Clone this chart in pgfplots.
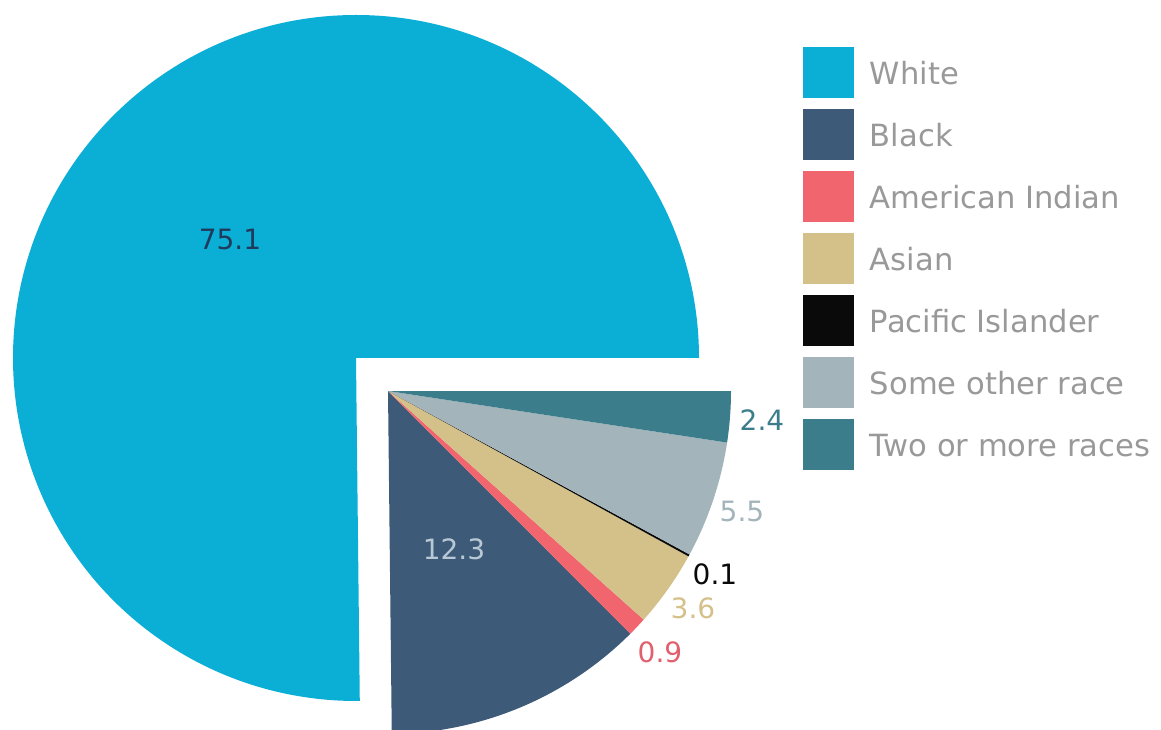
\documentclass[border=0pt]{standalone}
\usepackage{fontspec}
\setmainfont{DejaVu Sans}
\usepackage{pgfplots}
\usepackage{pgfplotstable}
\pgfplotsset{compat=1.18}

\definecolor{cWhite}{HTML}{0BAFD6}
\definecolor{cBlack}{HTML}{3D5A78}
\definecolor{cAmInd}{HTML}{F0656E}
\definecolor{cAsian}{HTML}{D4C18A}
\definecolor{cPacif}{HTML}{0A0A0A}
\definecolor{cOther}{HTML}{A3B4BA}
\definecolor{cTwo}{HTML}{3B7D8B}
\definecolor{tWhite}{HTML}{1F3A5C}
\definecolor{tBlack}{HTML}{B8C9D5}
\definecolor{tAmInd}{HTML}{E0606E}
\definecolor{legtext}{HTML}{999999}

% value in percent; cx,cy = slice centre; lx,ly = label centre (px units)
\pgfplotstableread[col sep=comma]{
label,value,fillc,textc,cx,cy,lx,ly
White,75.1,cWhite,tWhite,356,371,230,490
Black,12.3,cBlack,tBlack,388,338,454,180
American Indian,0.9,cAmInd,tAmInd,388,338,660,77
Asian,3.6,cAsian,cAsian,388,338,693,121
Pacific Islander,0.1,cPacif,cPacif,388,338,715,155
Some other race,5.5,cOther,cOther,388,338,742,218
Two or more races,2.4,cTwo,cTwo,388,338,762,309
}\data

\begin{document}
\begin{tikzpicture}
\begin{axis}[
  x=0.5pt, y=0.5pt,
  xmin=0, xmax=1161, ymin=0, ymax=729,
  hide axis,
  legend cell align=left,
  legend image code/.code={\fill[#1,draw=none] (0pt,-12.25pt) rectangle (25.5pt,13.25pt);},
  legend style={at={(axis description cs:0.6916,0.9417)}, anchor=north west,
    draw=none, fill=none, inner sep=0pt, outer sep=0pt,
    row sep=0pt, column sep=8pt,
    font=\fontsize{15.3}{18}\selectfont, text=legtext,
    nodes={inner sep=0pt, text height=21.05pt, text depth=9.95pt}},
]
\path (axis cs:0,0) rectangle (axis cs:1161,729);
\def\angA{0}
\pgfplotsforeachungrouped \i in {0,...,6}{%
  \pgfplotstablegetelem{\i}{value}\of\data \let\val\pgfplotsretval
  \pgfplotstablegetelem{\i}{label}\of\data \let\lab\pgfplotsretval
  \pgfplotstablegetelem{\i}{fillc}\of\data \let\fc\pgfplotsretval
  \pgfplotstablegetelem{\i}{textc}\of\data \let\tc\pgfplotsretval
  \pgfplotstablegetelem{\i}{cx}\of\data \let\cx\pgfplotsretval
  \pgfplotstablegetelem{\i}{cy}\of\data \let\cy\pgfplotsretval
  \pgfplotstablegetelem{\i}{lx}\of\data \let\lx\pgfplotsretval
  \pgfplotstablegetelem{\i}{ly}\of\data \let\ly\pgfplotsretval
  \pgfmathsetmacro\angB{\angA+\val/99.9*360}%
  \edef\cmd{%
    \noexpand\fill[\fc] (axis cs:\cx,\cy) -- ++(\angA:171.5pt)
      arc[start angle=\angA, end angle=\angB, radius=171.5pt] -- cycle;
    \noexpand\node[text=\tc, inner sep=0pt, font=\noexpand\fontsize{14}{16}\noexpand\selectfont]
      at (axis cs:\lx,\ly) {\val};
    \noexpand\addlegendimage{fill=\fc, draw=none}
    \noexpand\addlegendentry{\lab}%
  }%
  \cmd
  \global\let\angA\angB
}
\end{axis}
\end{tikzpicture}
\end{document}
